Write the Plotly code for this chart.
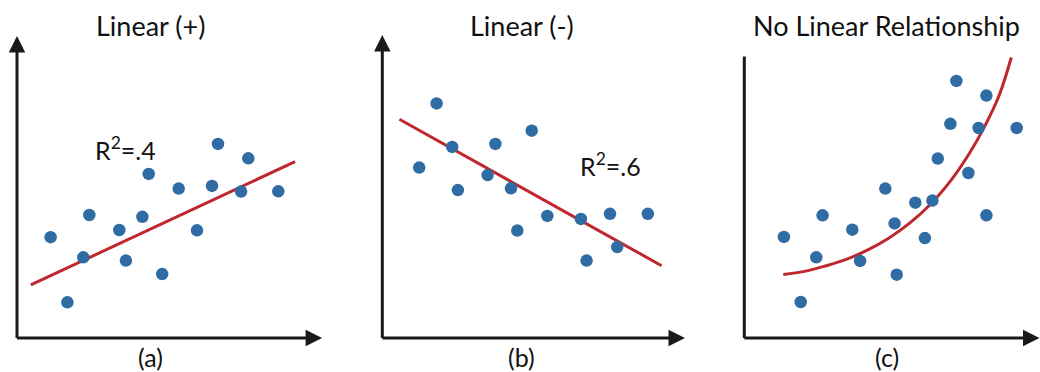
import plotly.graph_objects as go

# ---------------- data (units: arbitrary) ----------------
titles = ["Linear (+)", "Linear (-)", "No Linear Relationship"]
labels = ["(a)", "(b)", "(c)"]
r2_text = ["R<sup>2</sup>=.4", "R<sup>2</sup>=.6"]

a_x = [1.12, 1.68, 2.21, 2.41, 3.41, 3.63, 4.18, 4.39, 4.84, 5.39, 6.00, 6.50, 6.70, 7.47, 7.71, 8.71]
a_y = [3.36, 1.19, 2.69, 4.10, 3.60, 2.58, 4.04, 5.47, 2.13, 4.98, 3.59, 5.07, 6.47, 4.88, 5.99, 4.89]
a_line_x = [0.46, 9.27]
a_line_y = [1.77, 5.88]

b_x = [1.81, 1.23, 2.33, 2.52, 3.51, 3.77, 4.29, 4.50, 4.98, 5.50, 6.62, 6.81, 7.59, 7.83, 8.85]
b_y = [7.82, 5.68, 6.37, 4.93, 5.43, 6.47, 4.99, 3.58, 6.91, 4.07, 3.97, 2.58, 4.14, 3.03, 4.14]
b_line_x = [0.57, 9.31]
b_line_y = [7.29, 2.41]

c_x = [1.32, 1.88, 2.40, 2.61, 3.60, 3.86, 4.70, 5.01, 5.08, 5.70, 6.02, 6.27, 6.45, 6.87, 7.07, 7.47, 7.81, 8.07, 8.07, 9.08]
c_y = [3.37, 1.20, 2.69, 4.09, 3.61, 2.57, 4.98, 3.82, 2.11, 4.51, 3.33, 4.58, 5.98, 7.14, 8.57, 5.50, 7.00, 8.08, 4.09, 7.00]
c_curve_x = [1.30, 2.00, 2.70, 3.40, 4.10, 4.80, 5.50, 6.20, 6.90, 7.50, 8.00, 8.50, 8.90]
c_curve_y = [2.12, 2.22, 2.40, 2.62, 2.93, 3.32, 3.82, 4.45, 5.27, 6.15, 7.03, 8.10, 9.35]

# axis extents (units) for each panel
x_len = [10.17, 10.09, 9.84]
y_len = [10.07, 10.10, 9.38]
y_arrow = [True, True, False]

# ---------------- layout geometry (pixels) ----------------
W, H = 1040, 372
PX = 30.0                      # pixels per unit
origins_x = [17.0, 382.3, 744.3]
right_px = [335.0, 700.0, 1040.0]
origin_y = 338.0
top_px = 28.0

BLUE = "#2f6ca3"
RED = "#c0272d"
AX = "#1a1a1a"
FONT = "Lato"

fig = go.Figure()

series = [(a_x, a_y, a_line_x, a_line_y), (b_x, b_y, b_line_x, b_line_y), (c_x, c_y, c_curve_x, c_curve_y)]
for i, (px_, py_, lx, ly) in enumerate(series):
    xa = "x" if i == 0 else f"x{i+1}"
    ya = "y" if i == 0 else f"y{i+1}"
    fig.add_trace(go.Scatter(x=lx, y=ly, mode="lines",
                             line=dict(color=RED, width=3, shape="spline" if i == 2 else "linear",
                                       smoothing=1.0),
                             xaxis=xa, yaxis=ya, hoverinfo="skip", showlegend=False))
    fig.add_trace(go.Scatter(x=px_, y=py_, mode="markers",
                             marker=dict(color=BLUE, size=12.5, line=dict(width=0)),
                             xaxis=xa, yaxis=ya, showlegend=False, cliponaxis=False))

annotations = []
for i in range(3):
    xs = "" if i == 0 else str(i + 1)
    x0p, x1p = origins_x[i], right_px[i]
    dom_x = [x0p / W, x1p / W]
    dom_y = [(H - origin_y) / H, (H - top_px) / H]
    xr = [0, (x1p - x0p) / PX]
    yr = [0, (origin_y - top_px) / PX]
    ax_common = dict(showgrid=False, zeroline=False, showticklabels=False, ticks="",
                     showline=False, fixedrange=True)
    fig.layout[f"xaxis{xs}"] = dict(domain=dom_x, range=xr, anchor=f"y{xs}", **ax_common)
    fig.layout[f"yaxis{xs}"] = dict(domain=dom_y, range=yr, anchor=f"x{xs}", **ax_common)

    xref = f"x{xs}"
    yref = f"y{xs}"
    annotations.append(dict(x=x_len[i], y=0, ax=-0.05, ay=0, xref=xref, yref=yref,
                            axref=xref, ayref=yref, showarrow=True, arrowhead=2,
                            arrowsize=1.1, arrowwidth=3, arrowcolor=AX, text=""))
    annotations.append(dict(x=0, y=y_len[i], ax=0, ay=-0.05, xref=xref, yref=yref,
                            axref=xref, ayref=yref, showarrow=True,
                            arrowhead=2 if y_arrow[i] else 0,
                            arrowsize=1.1, arrowwidth=3, arrowcolor=AX, text=""))

title_cx = [150, 521.7, 886.7]
for i in range(3):
    annotations.append(dict(x=title_cx[i] / W, y=(H - 25) / H, xref="paper", yref="paper",
                            text=titles[i], showarrow=False, xanchor="center", yanchor="middle",
                            font=dict(family=FONT, size=27, color="#111")))
    annotations.append(dict(x=title_cx[i] / W, y=(H - 357) / H, xref="paper", yref="paper",
                            text=labels[i], showarrow=False, xanchor="center", yanchor="middle",
                            font=dict(family=FONT, size=25, color="#111")))

annotations.append(dict(x=3.63, y=6.33, xref="x", yref="y", text=r2_text[0], showarrow=False,
                        font=dict(family=FONT, size=25, color="#111")))
annotations.append(dict(x=7.59, y=5.77, xref="x2", yref="y2", text=r2_text[1], showarrow=False,
                        font=dict(family=FONT, size=25, color="#111")))

fig.update_layout(width=W, height=H, margin=dict(l=0, r=0, t=0, b=0),
                  paper_bgcolor="white", plot_bgcolor="white",
                  annotations=annotations, showlegend=False)

fig.write_html("out.html", config={"displayModeBar": False},
               post_script="document.body.style.margin='0';document.body.style.overflow='hidden';")
